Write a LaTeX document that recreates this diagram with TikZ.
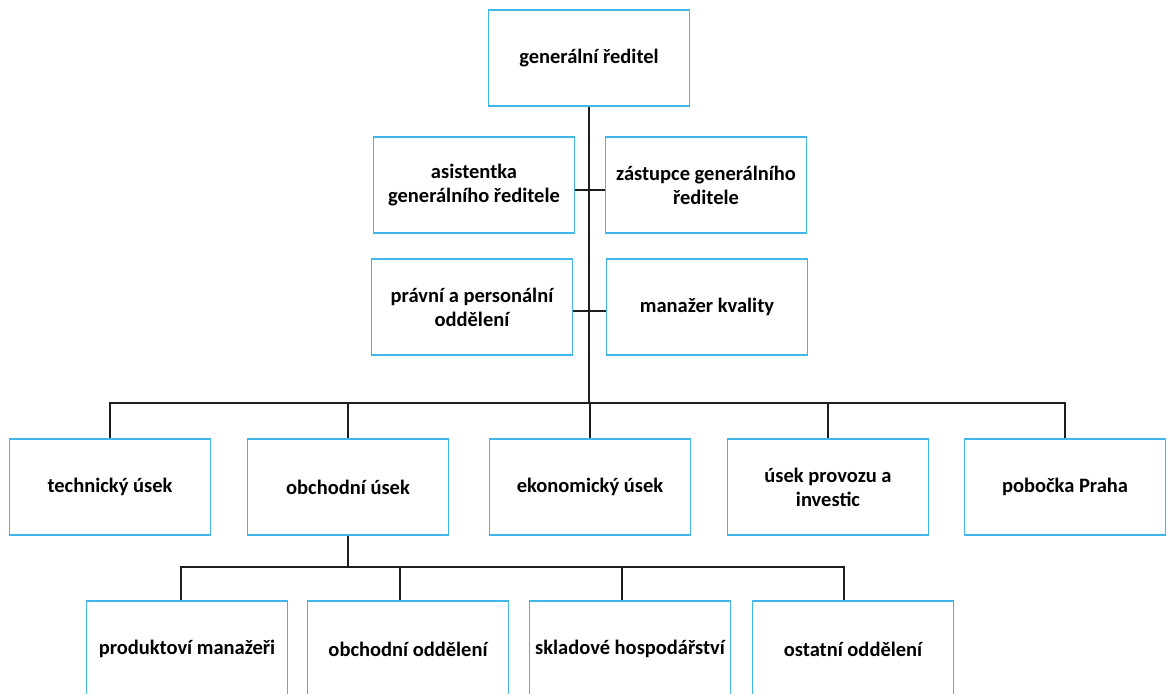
\documentclass[tikz,border=0pt]{standalone}
\usepackage{fontspec}
\setmainfont{Carlito}
\usetikzlibrary{positioning}
\definecolor{boxblue}{RGB}{65,182,232}
\definecolor{linegray}{RGB}{30,30,30}

\begin{document}
\begin{tikzpicture}[
  x=1pt, y=-1pt,
  box/.style = {rectangle, draw=boxblue, line width=1.6pt, minimum width=201pt, minimum height=96pt, font=\fontsize{20.5}{24}\selectfont\bfseries, align=center, inner sep=2pt},
  link/.style = {draw=linegray, line width=1.4pt}
  ]
\useasboundingbox (0,0) rectangle (1166,693);

% top
\node[box] (gen) at (589,58) {generální ředitel};

% staff
\node[box] (asist) at (474,185) {asistentka\\generálního ředitele};
\node[box] (zast) at (706,185) {zástupce generálního\\ředitele};
\node[box] (pravni) at (472,307) {právní a personální\\oddělení};
\node[box] (kval) at (707,307) {manažer kvality};

% divisions
\node[box] (tech) at (110,487) {technický úsek};
\node[box] (obch) at (348,487) {obchodní úsek};
\node[box] (ekon) at (590,487) {ekonomický úsek};
\node[box] (prov) at (828,487) {úsek provozu a\\investic};
\node[box] (pob) at (1065,487) {pobočka Praha};

% departments
\node[box] (prod) at (187,649) {produktoví manažeři};
\node[box] (oddel) at (408,649) {obchodní oddělení};
\node[box] (sklad) at (630,649) {skladové hospodářství};
\node[box] (ostat) at (853,649) {ostatní oddělení};

\coordinate (bus) at (590,403);
\coordinate (subbus) at (348,567);

\draw[link] (gen.south) -- (gen.south |- bus);
\draw[link] ([yshift=-5pt]asist.east) -- ([yshift=-5pt]zast.west);
\draw[link] ([yshift=-4pt]pravni.east) -- ([yshift=-4pt]kval.west);

\draw[link] (tech.north) -- (tech.north |- bus) -- (pob.north |- bus) -- (pob.north);
\draw[link] (obch.north) -- (obch.north |- bus);
\draw[link] (ekon.north) -- (ekon.north |- bus);
\draw[link] (prov.north) -- (prov.north |- bus);

\draw[link] (obch.south) -- (subbus);
\draw[link] ([xshift=-6pt]prod.north) -- ([xshift=-6pt]prod.north |- subbus) -- ([xshift=-9pt]ostat.north |- subbus) -- ([xshift=-9pt]ostat.north);
\draw[link] ([xshift=-8pt]oddel.north) -- ([xshift=-8pt]oddel.north |- subbus);
\draw[link] ([xshift=-8pt]sklad.north) -- ([xshift=-8pt]sklad.north |- subbus);

\end{tikzpicture}
\end{document}
